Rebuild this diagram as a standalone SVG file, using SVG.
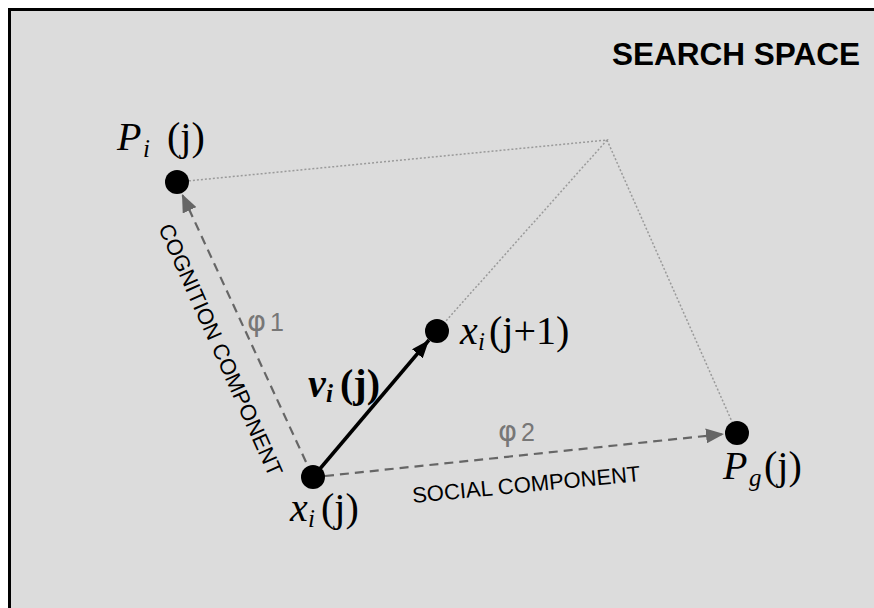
<svg xmlns="http://www.w3.org/2000/svg" width="874" height="608" viewBox="0 0 874 608">
<defs>
<style>
.math{font-family:"Liberation Serif","Times New Roman",serif;font-size:40px;fill:#000}
.it{font-style:italic}
.sub{font-size:25px;font-style:italic}
.lbl{font-family:"Liberation Sans",Arial,sans-serif;font-size:22px;fill:#000}
.phi{font-family:"DejaVu Sans","Liberation Sans",sans-serif;font-size:29px;fill:#777}
.phin{font-family:"Liberation Sans",Arial,sans-serif;font-size:25px;fill:#777}
.dot{fill:#000}
.dotted{stroke:#9a9a9a;stroke-width:1.5;stroke-dasharray:2 2;fill:none}
.dashed{stroke:#666;stroke-width:2.2;stroke-dasharray:9 6;fill:none}
.solid{stroke:#000;stroke-width:3.5;fill:none}
</style>
<marker id="ag" viewBox="0 0 18 15" refX="18" refY="7.5" markerWidth="18" markerHeight="15" markerUnits="userSpaceOnUse" orient="auto">
<path d="M0,0 L18,7.5 L0,15 Z" fill="#666"/>
</marker>
<marker id="ab" viewBox="0 0 18 14" refX="18" refY="7" markerWidth="18" markerHeight="14" markerUnits="userSpaceOnUse" orient="auto">
<path d="M0,0 L18,7 L0,14 Z" fill="#000"/>
</marker>
</defs>
<rect x="9.5" y="9.5" width="900" height="700" fill="#dcdcdc" stroke="#000" stroke-width="3"/>
<text x="612" y="65" font-family="Liberation Sans,Arial,sans-serif" font-weight="bold" font-size="31.5" fill="#000">SEARCH SPACE</text>
<g id="connectors">
<polyline class="dotted" points="177,182 607,140 437,331"/>
<line class="dotted" x1="607" y1="140" x2="737" y2="433"/>
<line class="dashed" x1="306" y1="462" x2="182" y2="194" marker-end="url(#ag)"/>
<line class="dashed" x1="325" y1="476" x2="724" y2="434" marker-end="url(#ag)"/>
<line class="solid" x1="313" y1="477" x2="429" y2="340" marker-end="url(#ab)"/>
</g>
<g id="Pi">
<circle class="dot" cx="177" cy="182" r="12"/>
<text class="math" y="150"><tspan class="it" x="117">P</tspan><tspan class="sub" x="143" y="157">i</tspan><tspan x="167" y="150">(j)</tspan></text>
</g>
<g id="xi1">
<circle class="dot" cx="437" cy="331" r="12"/>
<text class="math" y="344"><tspan class="it" x="460">x</tspan><tspan class="sub" x="478" y="350">i</tspan><tspan x="489" y="344">(j+1)</tspan></text>
</g>
<g id="xi">
<circle class="dot" cx="313" cy="477" r="12"/>
<text class="math" y="521"><tspan class="it" x="290">x</tspan><tspan class="sub" x="308" y="527">i</tspan><tspan x="321" y="521">(j)</tspan></text>
</g>
<g id="Pg">
<circle class="dot" cx="737" cy="433" r="12"/>
<text class="math" y="479"><tspan class="it" x="723">P</tspan><tspan class="sub" x="749" y="486">g</tspan><tspan x="764" y="479">(j)</tspan></text>
</g>
<g id="vi">
<text class="math" y="397" font-weight="bold"><tspan class="it" x="308">v</tspan><tspan class="sub" x="326" y="402" font-weight="bold">i</tspan><tspan x="340" y="397">(j)</tspan></text>
</g>
<g id="labels">
<text class="phi" x="247" y="331">φ<tspan class="phin" x="270">1</tspan></text>
<text class="phi" x="498" y="441">φ<tspan class="phin" x="521">2</tspan></text>
<text class="lbl" transform="translate(158,228) rotate(66)">COGNITION COMPONENT</text>
<text class="lbl" transform="translate(413,503) rotate(-5.5)">SOCIAL COMPONENT</text>
</g>
</svg>
